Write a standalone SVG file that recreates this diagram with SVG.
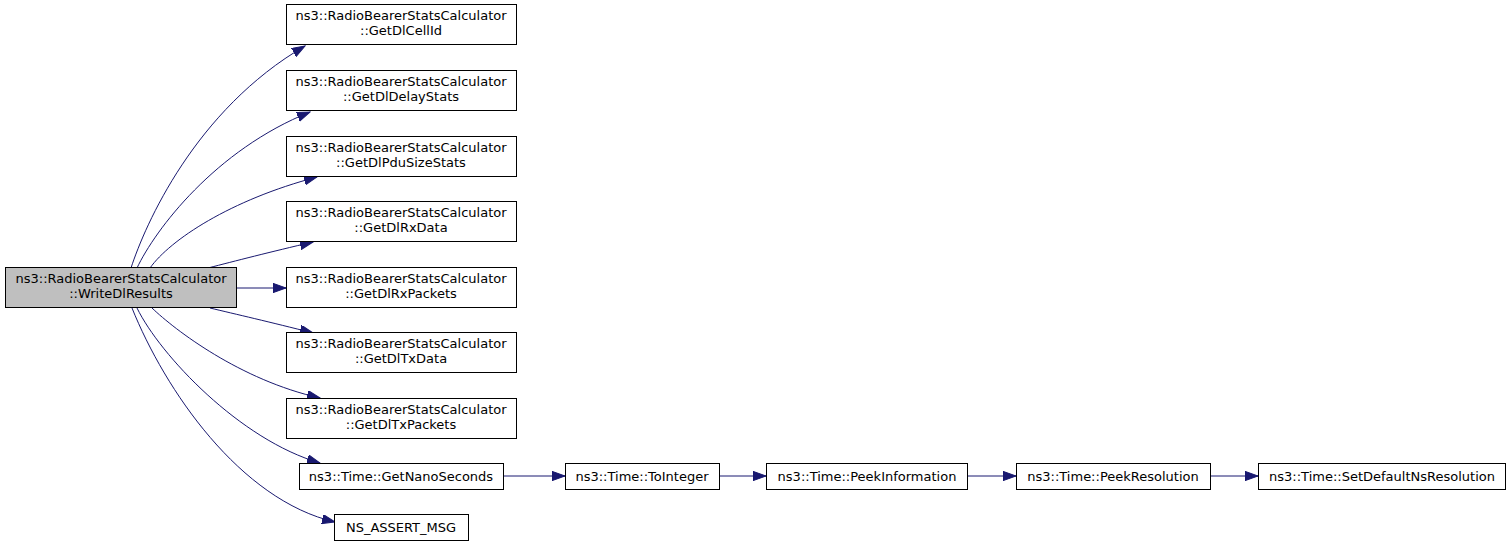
<svg xmlns="http://www.w3.org/2000/svg" width="1512" height="546" viewBox="0 0 1512 546">
<style>
.n rect{fill:#ffffff;stroke:#000000;stroke-width:1}
.n.cur rect{fill:#bfbfbf}
.n text{font-family:"DejaVu Sans",sans-serif;font-size:13px;fill:#000000;text-anchor:middle}
.e path{fill:none;stroke:#191970;stroke-width:1;marker-end:url(#arr)}
</style>
<defs>
<marker id="arr" markerUnits="userSpaceOnUse" markerWidth="14" markerHeight="10" refX="13" refY="4.65" orient="auto">
<path d="M0,0 L13,4.65 L0,9.3 z" fill="#191970" stroke="#191970" stroke-width="1"/>
</marker>
</defs>
<rect width="1512" height="546" fill="#ffffff"/>
<g id="edges" class="e">
<path d="M131,268 C145,225 195,110 305,46"/>
<path d="M137,268 C155,230 215,150 310,112"/>
<path d="M150,268 C170,240 230,200 317,177"/>
<path d="M208,268 C235,261 270,252 313,242"/>
<path d="M237,288 L286,288"/>
<path d="M210,308 C235,314 270,322 313,333"/>
<path d="M152,308 C175,330 240,380 320,398"/>
<path d="M137,308 C160,355 240,440 320,463"/>
<path d="M132,308 C165,390 240,500 335,522"/>
<path d="M503,476 L565,476"/>
<path d="M719,476 L766,476"/>
<path d="M967,476 L1016,476"/>
<path d="M1210,476 L1258,476"/>
</g>
<g id="node-WriteDlResults" class="n cur">
<rect x="5.5" y="267.5" width="231" height="40"/>
<text x="121" y="283">ns3::RadioBearerStatsCalculator</text>
<text x="121" y="298">::WriteDlResults</text>
</g>
<g id="node-GetDlCellId" class="n">
<rect x="286.5" y="4.5" width="230" height="40"/>
<text x="401" y="20">ns3::RadioBearerStatsCalculator</text>
<text x="401" y="35">::GetDlCellId</text>
</g>
<g id="node-GetDlDelayStats" class="n">
<rect x="286.5" y="70.5" width="230" height="40"/>
<text x="401" y="86">ns3::RadioBearerStatsCalculator</text>
<text x="401" y="101">::GetDlDelayStats</text>
</g>
<g id="node-GetDlPduSizeStats" class="n">
<rect x="286.5" y="136.5" width="230" height="40"/>
<text x="401" y="152">ns3::RadioBearerStatsCalculator</text>
<text x="401" y="167">::GetDlPduSizeStats</text>
</g>
<g id="node-GetDlRxData" class="n">
<rect x="286.5" y="201.5" width="230" height="40"/>
<text x="401" y="217">ns3::RadioBearerStatsCalculator</text>
<text x="401" y="232">::GetDlRxData</text>
</g>
<g id="node-GetDlRxPackets" class="n">
<rect x="286.5" y="267.5" width="230" height="40"/>
<text x="401" y="283">ns3::RadioBearerStatsCalculator</text>
<text x="401" y="298">::GetDlRxPackets</text>
</g>
<g id="node-GetDlTxData" class="n">
<rect x="286.5" y="332.5" width="230" height="40"/>
<text x="401" y="348">ns3::RadioBearerStatsCalculator</text>
<text x="401" y="363">::GetDlTxData</text>
</g>
<g id="node-GetDlTxPackets" class="n">
<rect x="286.5" y="398.5" width="230" height="40"/>
<text x="401" y="414">ns3::RadioBearerStatsCalculator</text>
<text x="401" y="429">::GetDlTxPackets</text>
</g>
<g id="node-GetNanoSeconds" class="n">
<rect x="299.5" y="463.5" width="204" height="26"/>
<text x="401" y="481">ns3::Time::GetNanoSeconds</text>
</g>
<g id="node-NS_ASSERT_MSG" class="n">
<rect x="334.5" y="514.5" width="134" height="26"/>
<text x="401" y="532">NS_ASSERT_MSG</text>
</g>
<g id="node-ToInteger" class="n">
<rect x="565.5" y="463.5" width="154" height="26"/>
<text x="642" y="481">ns3::Time::ToInteger</text>
</g>
<g id="node-PeekInformation" class="n">
<rect x="766.5" y="463.5" width="201" height="26"/>
<text x="867" y="481">ns3::Time::PeekInformation</text>
</g>
<g id="node-PeekResolution" class="n">
<rect x="1016.5" y="463.5" width="194" height="26"/>
<text x="1113" y="481">ns3::Time::PeekResolution</text>
</g>
<g id="node-SetDefaultNsResolution" class="n">
<rect x="1258.5" y="463.5" width="247" height="26"/>
<text x="1382" y="481">ns3::Time::SetDefaultNsResolution</text>
</g>
</svg>
